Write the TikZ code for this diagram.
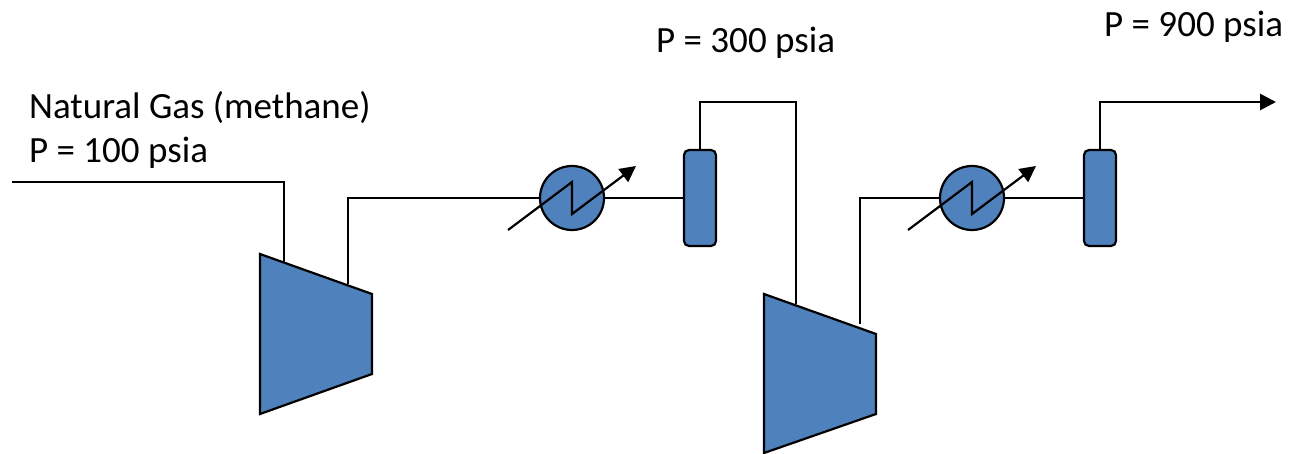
\documentclass[tikz,border=0pt]{standalone}
\usepackage{fontspec}
\setmainfont{Carlito}
\usetikzlibrary{arrows.meta}
\tikzset{
  pipe/.style = {draw = black, line width = 2.2pt, line join = miter},
  label/.style = {anchor = base west, inner sep = 0pt, text = black, font = \fontsize{37}{44}\selectfont},
  unit/.style = {fill = col, draw = black, line width = 2.2pt},
  heater/.style = {circle, fill = col, draw = black, line width = 2.2pt, minimum size = 64pt, inner sep = 0pt},
  drum/.style = {rectangle, rounded corners = 5pt, fill = col, draw = black, line width = 2.2pt, minimum width = 32pt, minimum height = 96pt, inner sep = 0pt},
  tip/.style = {-{Triangle[length = 16pt, width = 16pt]}},
}
\begin{document}
\begin{tikzpicture}[x = 1pt, y = -1pt]
\definecolor{col}{HTML}{4F81BD}
\useasboundingbox (0, 0) rectangle (1290, 454);
% compressors
\coordinate (compA1) at (260, 254);
\coordinate (compA2) at (372, 294);
\coordinate (compA3) at (372, 374);
\coordinate (compA4) at (260, 414);
\coordinate (compB1) at (764, 294);
\coordinate (compB2) at (876, 334);
\coordinate (compB3) at (876, 414);
\coordinate (compB4) at (764, 453);
\draw[unit] (compA1) -- (compA2) -- (compA3) -- (compA4) -- cycle;
\draw[unit] (compB1) -- (compB2) -- (compB3) -- (compB4) -- cycle;
% free ends of the pipes
\coordinate (inlet) at (12, 182);
\coordinate (compAin) at (284, 262);
\coordinate (compAout) at (348, 284);
\coordinate (compBin) at (796, 304);
\coordinate (compBout) at (860, 324);
\coordinate (outlet) at (1276, 102);
% heaters and drums
\node[heater] (heatA) at (572, 198) {};
\node[heater] (heatB) at (972, 198) {};
\node[drum] (drumA) at (700, 198) {};
\node[drum] (drumB) at (1100, 198) {};
% heater arrows
\coordinate (heatAs) at (508, 230);
\coordinate (heatAt) at (636, 166);
\coordinate (heatBs) at (908, 230);
\coordinate (heatBt) at (1036, 166);
\draw[pipe, tip] (heatAs) -- (572, 182) -- (572, 214) -- (heatAt);
\draw[pipe, tip] (heatBs) -- (972, 182) -- (972, 214) -- (heatBt);
% pipes
\draw[pipe] (inlet) -| (compAin);
\draw[pipe] (compAout) |- (heatA.west);
\draw[pipe] (heatA.east) -- (drumA.west);
\draw[pipe] (drumA.north) |- (796, 102) -- (compBin);
\draw[pipe] (compBout) |- (heatB.west);
\draw[pipe] (heatB.east) -- (drumB.west);
\draw[pipe, tip, line width = 2.8pt] (drumB.north) |- (outlet);
% labels
\node[label] (feed) at (29, 119) {Natural Gas (methane)};
\node[label] (feedP) at (29, 163) {P = 100 psia};
\node[label] (midP) at (656, 53) {P = 300 psia};
\node[label] (prodP) at (1104, 37) {P = 900 psia};
\end{tikzpicture}
\end{document}
